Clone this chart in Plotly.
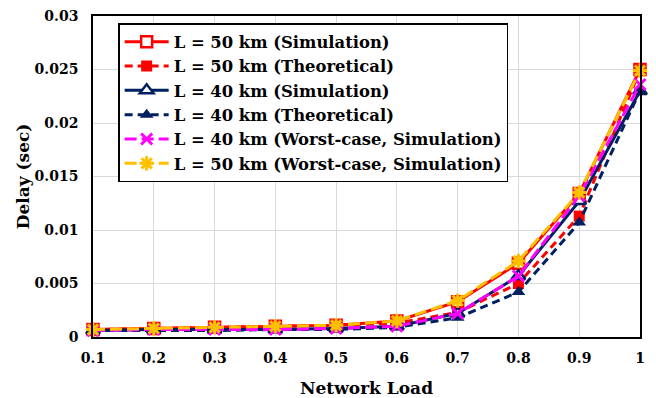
import plotly.graph_objects as go

load = [0.1, 0.2, 0.3, 0.4, 0.5, 0.6, 0.7, 0.8, 0.9, 1.0]
x_tick_labels = ["0.1", "0.2", "0.3", "0.4", "0.5", "0.6", "0.7", "0.8", "0.9", "1"]
y_tick_vals = [0, 0.005, 0.01, 0.015, 0.02, 0.025, 0.03]
y_tick_labels = ["0", "0.005", "0.01", "0.015", "0.02", "0.025", "0.03"]

L50_sim = [0.0007, 0.0008, 0.0009, 0.0010, 0.0011, 0.0015, 0.0033, 0.0069, 0.0134, 0.0250]
L50_theo = [0.0007, 0.0008, 0.0009, 0.0010, 0.0011, 0.0013, 0.0023, 0.0050, 0.0113, 0.0249]
L40_sim = [0.0006, 0.0007, 0.0007, 0.0007, 0.0008, 0.0010, 0.0022, 0.0057, 0.0127, 0.0230]
L40_theo = [0.0006, 0.0006, 0.0006, 0.0007, 0.0007, 0.0009, 0.0018, 0.0042, 0.0107, 0.0230]
L40_worst = [0.0006, 0.0007, 0.0007, 0.0007, 0.0008, 0.0010, 0.0022, 0.0057, 0.0132, 0.0236]
L50_worst = [0.0007, 0.0008, 0.0009, 0.0010, 0.0011, 0.0015, 0.0034, 0.0071, 0.0135, 0.0249]

RED = "#FF0000"
NAVY = "#002060"
MAGENTA = "#FF00FF"
GOLD = "#FFC000"

series = [
    ("L = 50 km (Simulation)", L50_sim, RED, "solid", "square", 11, 2.5, "white"),
    ("L = 50 km (Theoretical)", L50_theo, RED, "8px,5px", "square", 11, 0, RED),
    ("L = 40 km (Simulation)", L40_sim, NAVY, "solid", "triangle-up", 12, 2.5, "white"),
    ("L = 40 km (Theoretical)", L40_theo, NAVY, "8px,5px", "triangle-up", 12, 0, NAVY),
    ("L = 40 km (Worst-case, Simulation)", L40_worst, MAGENTA, "12px,5px", "x-thin-open", 11, 3, MAGENTA),
    ("L = 50 km (Worst-case, Simulation)", L50_worst, GOLD, "12px,5px", "asterisk-open", 12, 3, GOLD),
]

fig = go.Figure()
for name, vals, color, dash, symbol, size, lw, fill in series:
    fig.add_trace(go.Scatter(
        x=load, y=vals, name=name, mode="lines+markers",
        line=dict(color=color, width=3, dash=dash),
        marker=dict(symbol=symbol, size=size, color=fill,
                    line=dict(color=color, width=lw)),
        cliponaxis=False,
    ))

FF = "DejaVu Serif"

fig.update_layout(
    width=656, height=398,
    margin=dict(l=93, r=16, t=16, b=61),
    paper_bgcolor="white", plot_bgcolor="white",
    font=dict(family=FF, size=14, color="black", weight="bold"),
    showlegend=True,
    legend=dict(
        x=0.046, y=0.978, xanchor="left", yanchor="top",
        bgcolor="white", bordercolor="black", borderwidth=1.5,
        font=dict(family=FF, size=16.4, color="black", weight="bold"),
        tracegroupgap=0, itemwidth=44,
    ),
    xaxis=dict(
        range=[0.1, 1.0], tickvals=load, ticktext=x_tick_labels,
        showgrid=True, gridcolor="#D9D9D9", gridwidth=1,
        showline=True, linecolor="black", linewidth=1.5, mirror=True,
        zeroline=False, ticks="", automargin=False, ticklabelstandoff=7,
        tickfont=dict(size=14, family=FF, weight="bold"),
        title=dict(text="Network Load", standoff=18,
                   font=dict(size=17, family=FF, weight="bold")),
    ),
    yaxis=dict(
        range=[0, 0.03], tickvals=y_tick_vals, ticktext=y_tick_labels,
        showgrid=True, gridcolor="#D9D9D9", gridwidth=1,
        showline=True, linecolor="black", linewidth=1.5, mirror=True,
        zeroline=False, ticks="", automargin=False, ticklabelstandoff=10,
        tickfont=dict(size=14, family=FF, weight="bold"),
        title=dict(text="Delay (sec)", standoff=1,
                   font=dict(size=17, family=FF, weight="bold")),
    ),
)

fig.write_html("out.html")
